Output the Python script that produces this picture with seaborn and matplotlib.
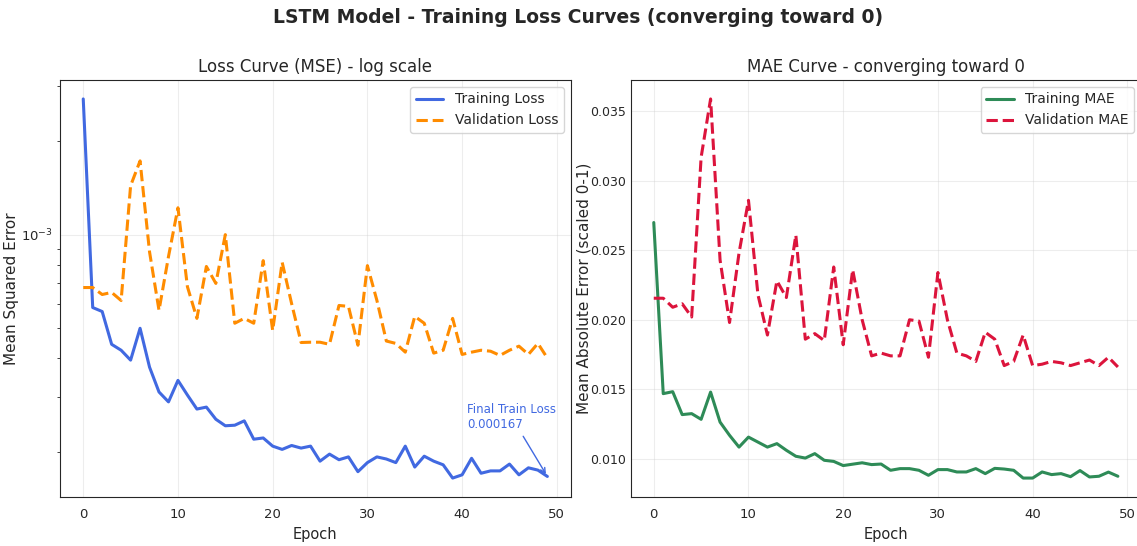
import numpy as np
import pandas as pd
import matplotlib
matplotlib.use("Agg")
import matplotlib.pyplot as plt
import seaborn as sns

# values
epochs = list(range(50))

train_loss = [2.73e-3, 5.83e-4, 5.66e-4, 4.44e-4, 4.25e-4, 3.95e-4, 5.00e-4, 3.75e-4, 3.12e-4, 2.90e-4,
              3.40e-4, 3.05e-4, 2.75e-4, 2.79e-4, 2.55e-4, 2.43e-4, 2.44e-4, 2.52e-4, 2.20e-4, 2.22e-4,
              2.09e-4, 2.04e-4, 2.10e-4, 2.06e-4, 2.09e-4, 1.87e-4, 1.97e-4, 1.89e-4, 1.93e-4, 1.73e-4,
              1.85e-4, 1.93e-4, 1.90e-4, 1.85e-4, 2.09e-4, 1.79e-4, 1.94e-4, 1.87e-4, 1.82e-4, 1.65e-4,
              1.69e-4, 1.91e-4, 1.71e-4, 1.74e-4, 1.74e-4, 1.83e-4, 1.69e-4, 1.78e-4, 1.75e-4, 1.67e-4]

val_loss = [6.76e-4, 6.76e-4, 6.42e-4, 6.52e-4, 6.14e-4, 1.436e-3, 1.726e-3, 8.8e-4, 5.71e-4, 8.5e-4,
            1.22e-3, 6.8e-4, 5.38e-4, 7.9e-4, 6.97e-4, 1.0e-3, 5.19e-4, 5.38e-4, 5.19e-4, 8.25e-4,
            4.92e-4, 8.15e-4, 6.0e-4, 4.5e-4, 4.51e-4, 4.51e-4, 4.44e-4, 5.92e-4, 5.88e-4, 4.41e-4,
            7.95e-4, 6.15e-4, 4.55e-4, 4.47e-4, 4.19e-4, 5.46e-4, 5.19e-4, 4.16e-4, 4.25e-4, 5.38e-4,
            4.12e-4, 4.19e-4, 4.25e-4, 4.22e-4, 4.09e-4, 4.25e-4, 4.38e-4, 4.12e-4, 4.47e-4, 4.01e-4]

train_mae = [0.0270, 0.01468, 0.01482, 0.01317, 0.01324, 0.01283, 0.01479, 0.01263, 0.01168, 0.01083,
             0.01155, 0.01119, 0.01083, 0.01108, 0.0106, 0.01017, 0.01004, 0.01036, 0.00988, 0.0098,
             0.0095, 0.0096, 0.0097, 0.00957, 0.00961, 0.00916, 0.00928, 0.00928, 0.00916, 0.0088,
             0.00921, 0.00921, 0.00904, 0.00904, 0.00928, 0.00892, 0.0093, 0.00925, 0.00916, 0.0086,
             0.0086, 0.00904, 0.00885, 0.00892, 0.0087, 0.00914, 0.00868, 0.00873, 0.00903, 0.00873]

val_mae = [0.02155, 0.02155, 0.0209, 0.02115, 0.0202, 0.0317, 0.0359, 0.0243, 0.0198, 0.0248,
           0.0286, 0.0218, 0.0189, 0.0228, 0.0216, 0.0261, 0.0186, 0.0190, 0.0185, 0.0238,
           0.0182, 0.0236, 0.0200, 0.0174, 0.0176, 0.0174, 0.0174, 0.0200, 0.0199, 0.0173,
           0.0234, 0.0200, 0.0176, 0.0174, 0.0170, 0.0191, 0.0186, 0.0167, 0.0170, 0.0189,
           0.0167, 0.0168, 0.0170, 0.0169, 0.0167, 0.0169, 0.0171, 0.0167, 0.0173, 0.0166]

df = pd.DataFrame({"epoch": epochs, "train_loss": train_loss, "val_loss": val_loss,
                   "train_mae": train_mae, "val_mae": val_mae})

sns.set_style("ticks")
plt.rcParams["font.family"] = ["DejaVu Sans"]

fig, (ax1, ax2) = plt.subplots(1, 2, figsize=(11.37, 5.46), dpi=100)
fig.subplots_adjust(left=0.0528, right=1.0036, bottom=0.0897, top=0.8535, wspace=0.1175)

# left: MSE loss, log scale
sns.lineplot(data=df, x="epoch", y="train_loss", ax=ax1, color="#4169E1", linewidth=2.2,
             label="Training Loss")
sns.lineplot(data=df, x="epoch", y="val_loss", ax=ax1, color="#FF8C00", linewidth=2.2,
             linestyle="--", label="Validation Loss")
ax1.set_yscale("log")
ax1.set_title("Loss Curve (MSE) - log scale", fontsize=12)
ax1.set_xlabel("Epoch", fontsize=10.5)
ax1.set_ylabel("Mean Squared Error", fontsize=11)
ax1.yaxis.set_label_coords(-0.081, 0.5)
ax1.legend(loc="upper right", fontsize=10)
ax1.annotate("Final Train Loss\n" + f"{train_loss[-1]:.6f}", xy=(epochs[-1], train_loss[-1]),
             xytext=(40.5, 2.6e-4), va="center", ha="left", fontsize=8.5, color="#4169E1",
             arrowprops=dict(arrowstyle="->", color="#4169E1", lw=1))

# right: MAE
sns.lineplot(data=df, x="epoch", y="train_mae", ax=ax2, color="#2E8B57", linewidth=2.2,
             label="Training MAE")
sns.lineplot(data=df, x="epoch", y="val_mae", ax=ax2, color="#DC143C", linewidth=2.2,
             linestyle="--", label="Validation MAE")
ax2.set_title("MAE Curve - converging toward 0", fontsize=12)
ax2.set_xlabel("Epoch", fontsize=10.5)
ax2.set_ylabel("Mean Absolute Error (scaled 0-1)", fontsize=11)
ax2.yaxis.set_label_coords(-0.076, 0.5)
ax2.legend(loc="upper right", fontsize=10)

for ax in (ax1, ax2):
    ax.grid(True, which="major", alpha=0.35)
    ax.tick_params(which="major", length=0, labelsize=9.5)
    ax.tick_params(axis="x", which="major", pad=8)
    ax.tick_params(which="minor", length=2)
ax1.tick_params(axis="y", which="major", pad=5)
ax2.tick_params(axis="y", which="major", pad=3, labelsize=9)

fig.suptitle("LSTM Model - Training Loss Curves (converging toward 0)", fontsize=13.5,
             fontweight="bold", x=0.508, y=0.985)

fig.savefig("out.png", dpi=100)
